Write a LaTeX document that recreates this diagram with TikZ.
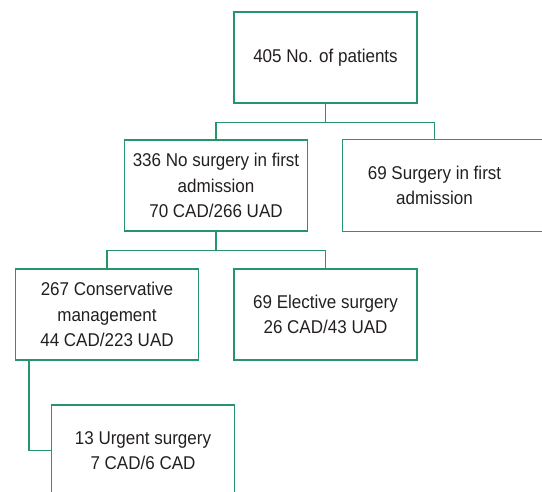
\documentclass[tikz,border=0pt]{standalone}
\usepackage{fontspec}
\setmainfont{Liberation Sans}[FakeStretch=0.92]
\definecolor{boxgreen}{RGB}{40,148,108}
\definecolor{txtgray}{RGB}{35,31,32}
\begin{document}
\begin{tikzpicture}[x=1pt,y=1pt,
  fbox/.style={draw=boxgreen, line width=1.1pt, minimum width=183pt, minimum height=91pt,
    align=center, inner sep=0pt, text=txtgray,
    font=\fontsize{18.5}{25.5}\selectfont},
  conn/.style={draw=boxgreen, line width=1.1pt}]
\clip (0,0) rectangle (542,492);
\useasboundingbox (0,0) rectangle (542,492);
\node[fbox] (top) at (325.5,434.5) {405 No. of patients};
\node[fbox] (n336) at (216,306.5) {336 No surgery in first\\admission\\70 CAD/266 UAD};
\node[fbox, draw=none] (s69) at (434.5,306.5) {69 Surgery in first\\admission};
\draw[conn] (s69.south west) rectangle ([xshift=30pt]s69.north east);
\node[fbox] (c267) at (107,177.5) {267 Conservative\\management\\44 CAD/223 UAD};
\node[fbox] (e69) at (325.5,177.5) {69 Elective surgery\\26 CAD/43 UAD};
\node[fbox] (u13) at (143,41.5) {13 Urgent surgery\\7 CAD/6 CAD};
\coordinate (c267b) at ([xshift=14pt]c267.south west);
\draw[conn] (top.south) -- ++(0,-19) -| (n336.north);
\draw[conn] (top.south) -- ++(0,-19) -| (s69.north);
\draw[conn] (n336.south) -- ++(0,-19) -| (c267.north);
\draw[conn] (n336.south) -- ++(0,-19) -| (e69.north);
\draw[conn] (c267b) |- (u13.west);
\end{tikzpicture}
\end{document}
